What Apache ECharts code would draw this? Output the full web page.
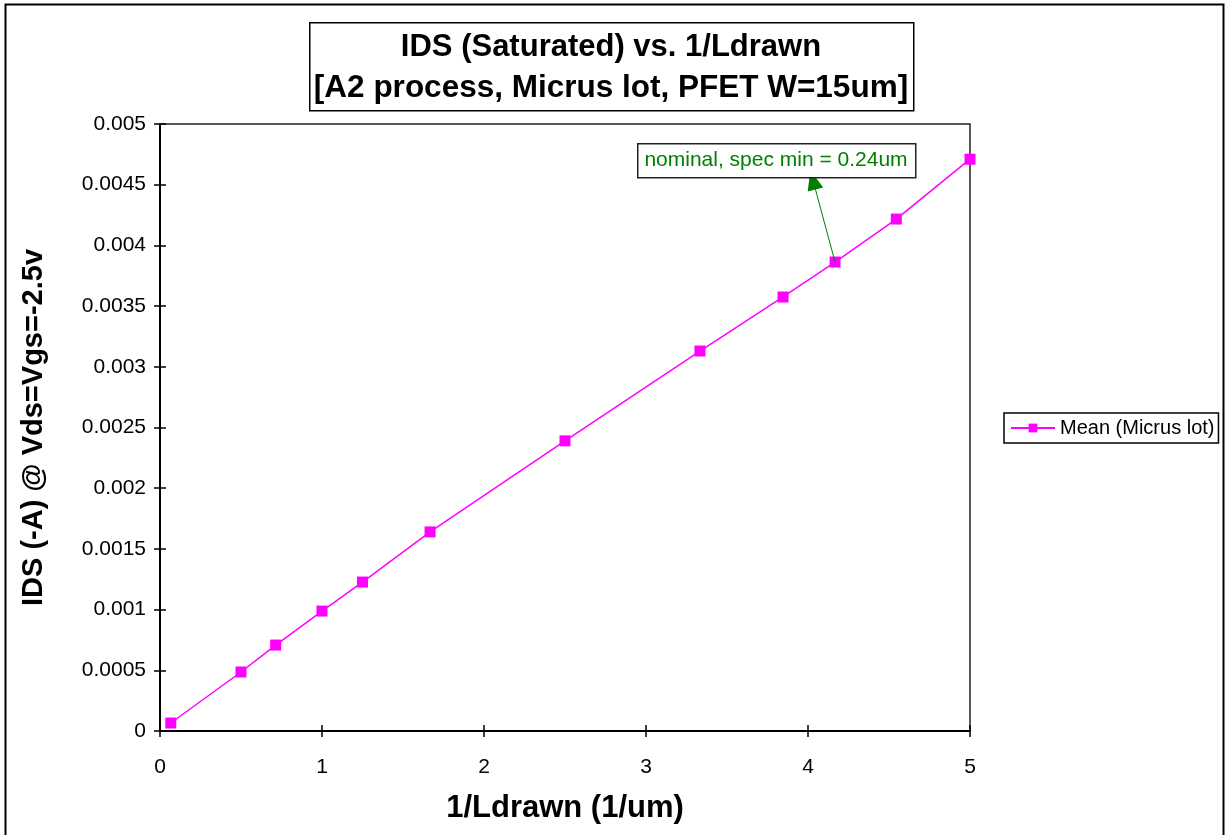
<!DOCTYPE html>
<html><head><meta charset="utf-8">
<script src="https://cdn.jsdelivr.net/npm/echarts@6/dist/echarts.min.js"></script>
<style>html,body{margin:0;padding:0;background:#fff}#c{width:1225px;height:835px}</style>
</head><body><div id="c"></div>
<script>
const invL = [0.0667, 0.5, 0.714, 1.0, 1.25, 1.667, 2.5, 3.333, 3.846, 4.167, 4.545, 5.0];
const idsMean = [0.000066, 0.000486, 0.000708, 0.000988, 0.001227, 0.00164, 0.00239, 0.00313, 0.003575, 0.003863, 0.004217, 0.00471];
const seriesName = 'Mean (Micrus lot)';
const titleLine1 = 'IDS (Saturated) vs. 1/Ldrawn';
const titleLine2 = '[A2 process, Micrus lot, PFET W=15um]';
const xName = '1/Ldrawn (1/um)';
const yName = 'IDS (-A) @ Vds=Vgs=-2.5v';
const noteText = 'nominal, spec min = 0.24um';
const notePoint = [4.167, 0.003863];
const noteTip = [4.03, 0.00454];

const chart = echarts.init(document.getElementById('c'));
const font = 'Liberation Sans, Arial, sans-serif';
chart.setOption({
  animation: false,
  backgroundColor: '#fff',
  grid: {left: 160, right: 255, top: 124, bottom: 104, show: true, borderColor: '#222', borderWidth: 1.5},
  xAxis: [
    {type: 'value', min: 0, max: 5, interval: 1, name: xName,
      nameLocation: 'middle', nameGap: 62,
      nameTextStyle: {color: '#000', fontSize: 31, fontWeight: 'bold', fontFamily: font},
      axisLine: {show: true, lineStyle: {color: '#000', width: 2}}, splitLine: {show: false},
      axisTick: {show: true, inside: false, length: 6, lineStyle: {color: '#000', width: 1.5}},
      axisLabel: {color: '#000', fontSize: 21, fontFamily: font, margin: 26}},
    {type: 'value', min: 0, max: 5, interval: 1, position: 'bottom', axisLine: {show: false}, splitLine: {show: false},
      axisLabel: {show: false}, axisTick: {show: true, inside: true, length: 6, lineStyle: {color: '#000', width: 1.5}}}
  ],
  yAxis: [
    {type: 'value', min: 0, max: 0.005, interval: 0.0005, name: yName,
      nameLocation: 'middle', nameGap: 112,
      nameTextStyle: {color: '#000', fontSize: 29, fontWeight: 'bold', fontFamily: font},
      axisLine: {show: true, lineStyle: {color: '#000', width: 2}}, splitLine: {show: false},
      axisTick: {show: true, inside: false, length: 6, lineStyle: {color: '#000', width: 1.5}},
      axisLabel: {color: '#000', fontSize: 21, fontFamily: font, margin: 14}},
    {type: 'value', min: 0, max: 0.005, interval: 0.0005, position: 'left', axisLine: {show: false}, splitLine: {show: false},
      axisLabel: {show: false}, axisTick: {show: true, inside: true, length: 6, lineStyle: {color: '#000', width: 1.5}}}
  ],
  legend: {
    show: true, left: 1004, top: 413, orient: 'vertical',
    borderColor: '#000', borderWidth: 1.5, padding: [5, 4, 5, 6],
    itemWidth: 44, itemHeight: 11, itemGap: 4,
    textStyle: {color: '#000', fontSize: 20, fontFamily: font},
    data: [{name: seriesName}]
  },
  series: [{
    name: seriesName, type: 'line', xAxisIndex: 0, yAxisIndex: 0,
    data: invL.map((x, i) => [x, idsMean[i]]),
    symbol: 'rect', symbolSize: 11, showSymbol: true,
    itemStyle: {color: '#FF00FF'},
    lineStyle: {color: '#FF00FF', width: 1.5},
    markLine: {
      silent: true, symbol: ['none', 'triangle'], symbolSize: [16, 20],
      lineStyle: {color: '#008000', width: 1, type: 'solid'},
      label: {show: false},
      data: [[{coord: notePoint}, {coord: noteTip}]]
    }
  }],
  graphic: [
    {type: 'rect', left: 3, top: 2, shape: {width: 1218, height: 840}, style: {fill: 'none', stroke: '#000', lineWidth: 2}, z: -1},
    {type: 'rect', left: 309, top: 22, shape: {width: 604, height: 88}, style: {fill: '#fff', stroke: '#000', lineWidth: 1.5}},
    {type: 'text', x: 611, y: 47, style: {text: titleLine1, font: 'bold 31px ' + font, fill: '#000', align: 'center', verticalAlign: 'middle'}},
    {type: 'text', x: 611, y: 88, style: {text: titleLine2, font: 'bold 31.5px ' + font, fill: '#000', align: 'center', verticalAlign: 'middle'}},
    {type: 'rect', left: 637, top: 143, shape: {width: 278, height: 34}, style: {fill: '#fff', stroke: '#222', lineWidth: 1.5}, z: 10},
    {type: 'text', x: 776, y: 160, style: {text: noteText, font: '21px ' + font, fill: '#008000', align: 'center', verticalAlign: 'middle'}, z: 11}
  ]
});
</script>
</body></html>
